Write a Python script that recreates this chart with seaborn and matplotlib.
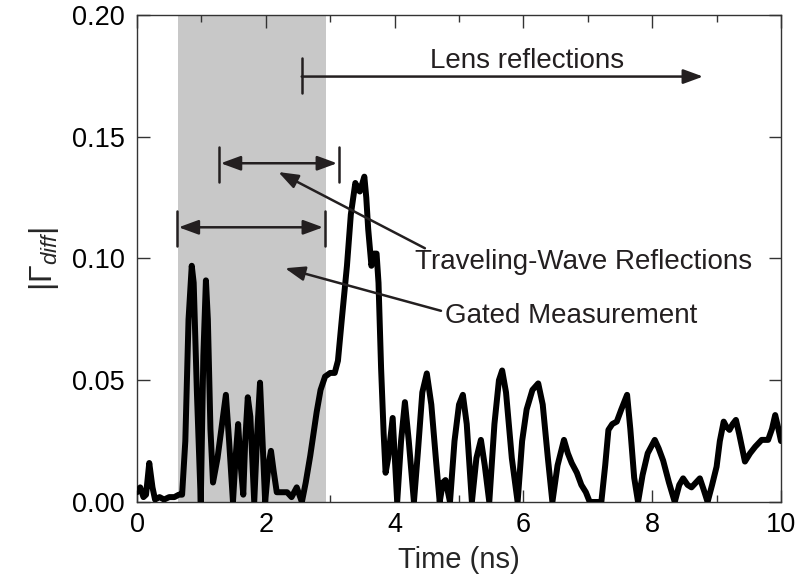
import numpy as np
import pandas as pd
import matplotlib
matplotlib.use("Agg")
import matplotlib.pyplot as plt
import seaborn as sns

# Differential reflection magnitude versus time
time_ns = [
    0.00, 0.05, 0.10, 0.14, 0.19, 0.24, 0.28, 0.35, 0.42, 0.50, 0.58, 0.65, 0.70,
    0.75, 0.80, 0.85, 0.88, 0.93, 0.99, 1.03, 1.07, 1.10, 1.14, 1.18, 1.25, 1.32,
    1.38, 1.43, 1.49, 1.53, 1.57, 1.61, 1.65, 1.68, 1.72, 1.76, 1.82, 1.87, 1.91,
    1.95, 1.99, 2.04, 2.08, 2.12, 2.17, 2.25, 2.33, 2.40, 2.48, 2.52, 2.56, 2.62,
    2.69, 2.74, 2.79, 2.85, 2.92, 3.00, 3.07, 3.12, 3.18, 3.26, 3.32, 3.39, 3.44,
    3.46, 3.50, 3.53, 3.56, 3.59, 3.64, 3.68, 3.72, 3.75, 3.79, 3.83, 3.86, 3.90,
    3.97, 4.00, 4.04, 4.10, 4.16, 4.22, 4.30, 4.36, 4.43, 4.50, 4.57, 4.64, 4.70,
    4.75, 4.79, 4.86, 4.93, 5.00, 5.06, 5.12, 5.20, 5.27, 5.34, 5.40, 5.47, 5.55,
    5.62, 5.67, 5.73, 5.82, 5.91, 5.98, 6.05, 6.14, 6.23, 6.30, 6.38, 6.45, 6.53,
    6.63, 6.69, 6.75, 6.83, 6.90, 6.97, 7.03, 7.10, 7.21, 7.27, 7.32, 7.38, 7.45,
    7.52, 7.61, 7.66, 7.72, 7.78, 7.85, 7.93, 8.04, 8.10, 8.17, 8.26, 8.35, 8.42,
    8.48, 8.55, 8.61, 8.68, 8.74, 8.80, 8.86, 8.93, 9.00, 9.05, 9.11, 9.15, 9.20,
    9.25, 9.30, 9.35, 9.44, 9.52, 9.60, 9.70, 9.80, 9.86, 9.91, 9.96, 10.00,
]
gamma_diff = [
    0.004, 0.006, 0.002, 0.003, 0.016, 0.006, 0.001, 0.002, 0.001, 0.002, 0.002, 0.003, 0.003,
    0.025, 0.075, 0.097, 0.090, 0.045, 0.000, 0.060, 0.091, 0.075, 0.030, 0.008, 0.018, 0.032,
    0.044, 0.025, 0.000, 0.018, 0.032, 0.015, 0.003, 0.025, 0.043, 0.035, 0.000, 0.030, 0.049,
    0.025, 0.000, 0.015, 0.021, 0.013, 0.004, 0.004, 0.004, 0.002, 0.006, 0.003, 0.000, 0.008,
    0.019, 0.028, 0.037, 0.046, 0.0515, 0.053, 0.053, 0.058, 0.075, 0.097, 0.118, 0.131, 0.128,
    0.1275, 0.131, 0.1336, 0.125, 0.112, 0.097, 0.102, 0.102, 0.090, 0.055, 0.028, 0.012, 0.018,
    0.0345, 0.020, 0.000, 0.025, 0.041, 0.025, 0.000, 0.020, 0.045, 0.0528, 0.040, 0.018, 0.000,
    0.008, 0.009, 0.000, 0.025, 0.040, 0.044, 0.032, 0.000, 0.018, 0.0255, 0.015, 0.000, 0.032,
    0.050, 0.054, 0.045, 0.018, 0.000, 0.025, 0.038, 0.046, 0.0487, 0.040, 0.018, 0.000, 0.015,
    0.0255, 0.020, 0.016, 0.012, 0.007, 0.004, 0.000, 0.000, 0.000, 0.015, 0.0296, 0.032, 0.033,
    0.038, 0.044, 0.030, 0.010, 0.000, 0.011, 0.020, 0.0255, 0.022, 0.017, 0.008, 0.000, 0.007,
    0.0097, 0.007, 0.006, 0.008, 0.0097, 0.005, 0.000, 0.007, 0.0145, 0.025, 0.033, 0.031, 0.0296,
    0.032, 0.0337, 0.028, 0.0166, 0.020, 0.0227, 0.0255, 0.0255, 0.030, 0.0357, 0.030, 0.025,
]

# Time windows (ns)
gate_window = (0.64, 2.93)
gated_span = (0.616, 2.919)
traveling_span = (1.27, 3.137)
lens_start, lens_end = 2.557, 8.79

x_ticks = [0, 2, 4, 6, 8, 10]
y_ticks = [0.00, 0.05, 0.10, 0.15, 0.20]

sns.set_theme(style="ticks")
plt.rcParams["font.family"] = ["Liberation Sans", "DejaVu Sans"]
plt.rcParams["mathtext.fontset"] = "custom"
plt.rcParams["mathtext.rm"] = "Liberation Sans"
plt.rcParams["mathtext.it"] = "Liberation Sans:italic"

df = pd.DataFrame({"t": time_ns, "g": gamma_diff})

fig = plt.figure(figsize=(7.98, 5.82), dpi=100)
ax = fig.add_axes([0.1717, 0.1375, 0.8070, 0.8368])

ax.axvspan(*gate_window, color="#c8c8c8", lw=0, zorder=0)
sns.lineplot(data=df, x="t", y="g", ax=ax, color="black", lw=4.3,
             estimator=None, zorder=3, solid_joinstyle="round", solid_capstyle="round")

ax.set_xlim(0, 10)
ax.set_ylim(0, 0.20)
ax.set_xticks(x_ticks)
ax.set_xticks(np.arange(1, 10, 2), minor=True)
ax.set_yticks(y_ticks)
ax.set_xticklabels([str(v) for v in x_ticks])
ax.set_yticklabels([f"{v:.2f}" for v in y_ticks])

spine_c = "#333333"
for s in ax.spines.values():
    s.set_color(spine_c)
    s.set_linewidth(1.0)
ax.tick_params(which="major", direction="in", length=9, width=1.0, color=spine_c,
               top=True, right=True, labelsize=19.5, labelcolor="black")
ax.tick_params(axis="x", which="major", pad=7)
ax.tick_params(axis="y", which="major", pad=9)
ax.tick_params(axis="x", which="minor", direction="in", length=5, width=1.0,
               color=spine_c, top=True, bottom=True)

ax.set_xlabel("Time (ns)", fontsize=21, labelpad=6)
ax.set_ylabel(r"$|\mathit{\Gamma}_{\mathit{diff}}|$", fontsize=23, labelpad=8)

ac = "#231f20"
fs = 20
head = dict(color=ac, lw=1.8, shrinkA=0, shrinkB=0, mutation_scale=20)

# Lens reflections marker
ax.plot([lens_start, lens_start], [0.1678, 0.1823], color=ac, lw=1.8)
ax.annotate("", xy=(lens_end, 0.1747), xytext=(lens_start, 0.1747),
            arrowprops=dict(arrowstyle="-|>,head_length=0.6,head_width=0.22", **head))
ax.text(6.06, 0.1812, "Lens reflections", ha="center", va="center", fontsize=fs, color=ac)

# Traveling-wave span
ax.plot([traveling_span[0]] * 2, [0.1315, 0.1459], color=ac, lw=1.8)
ax.plot([traveling_span[1]] * 2, [0.1315, 0.1459], color=ac, lw=1.8)
ax.annotate("", xy=(traveling_span[1] - 0.03, 0.1391), xytext=(traveling_span[0] + 0.03, 0.1391),
            arrowprops=dict(arrowstyle="<|-|>,head_length=0.6,head_width=0.22", **head))

# Gated measurement span
ax.plot([gated_span[0]] * 2, [0.1051, 0.1195], color=ac, lw=1.8)
ax.plot([gated_span[1]] * 2, [0.1051, 0.1195], color=ac, lw=1.8)
ax.annotate("", xy=(gated_span[1] - 0.03, 0.1128), xytext=(gated_span[0] + 0.03, 0.1128),
            arrowprops=dict(arrowstyle="<|-|>,head_length=0.6,head_width=0.22", **head))

# Callouts
ax.annotate("", xy=(2.194, 0.1355), xytext=(4.47, 0.1042),
            arrowprops=dict(arrowstyle="-|>,head_length=0.6,head_width=0.22", **head))
ax.text(4.32, 0.0985, "Traveling-Wave Reflections", ha="left", va="center",
        fontsize=fs, color=ac)
ax.annotate("", xy=(2.298, 0.0960), xytext=(4.72, 0.0785),
            arrowprops=dict(arrowstyle="-|>,head_length=0.6,head_width=0.22", **head))
ax.text(4.78, 0.0765, "Gated Measurement", ha="left", va="center", fontsize=fs, color=ac)

fig.savefig("out.png", dpi=100)
